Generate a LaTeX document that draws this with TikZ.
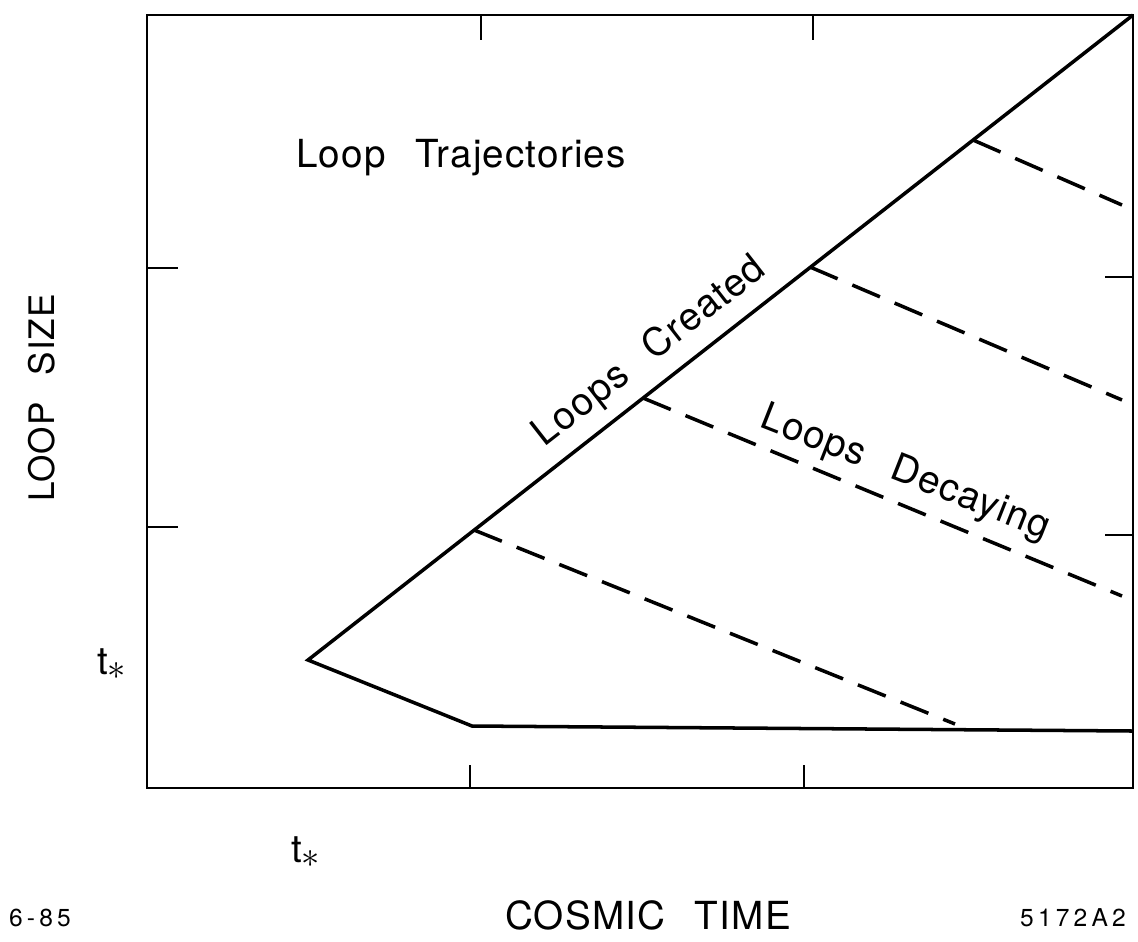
\documentclass[tikz,border=0pt]{standalone}
\usepackage{fontspec}
\newfontfamily\lettering[LetterSpace=3,WordSpace=2.5]{TeX Gyre Heros}
\newfontfamily\codefont[LetterSpace=17]{TeX Gyre Heros}
\usetikzlibrary{calc}

\begin{document}
\begin{tikzpicture}[
  x=0.02cm, y=-0.02cm,
  frame/.style={line width=1.6pt, line join=miter},
  tick/.style={line width=1.2pt},
  track/.style={line width=2pt, line join=miter},
  decay/.style={line width=2pt, dash pattern=on 0.6cm off 0.32cm},
  lbl/.style={font=\lettering\fontsize{22}{26}\selectfont, inner sep=0pt},
  code/.style={font=\codefont\fontsize{14}{16}\selectfont, inner sep=0pt},
]
\useasboundingbox (0,0) rectangle (1138,941);

% ---- frame and its ticks
\coordinate (bl) at (147,788);
\coordinate (tr) at (1133,15);
\draw[frame] (bl) rectangle (tr);
\foreach \x in {481,813} { \draw[tick] (\x,15) -- (\x,40); }
\foreach \x in {470,804} { \draw[tick] (\x,788) -- (\x,765); }
\foreach \y in {268,527} { \draw[tick] (147,\y) -- (178,\y); }
\foreach \y in {277,535} { \draw[tick] (1133,\y) -- (1105,\y); }

% ---- creation line and the lower edge
\coordinate (apex) at (308,660);
\coordinate (knee) at (472,726);
\coordinate (floor) at (1133,731);
\draw[track] (floor) -- (knee) -- (apex) -- (tr);

% ---- decaying loops, one per start on the creation line
\foreach \k/\sx/\sy/\ex/\ey in {1/474/530/955/724, 2/643/398/1122/596,
                               3/810/267/1122/400, 4/973/140/1122/205} {
  \coordinate (b\k) at (\sx,\sy);
  \coordinate (e\k) at (\ex,\ey);
  \draw[decay] (b\k) -- (e\k);
}

% ---- labels
\node[lbl] (title) at (461,158) {Loop Trajectories};
\node[lbl, rotate=38] (created) at (650,352) {Loops Created};
\node[lbl, rotate=-21.5] (decaying) at (905,474) {Loops Decaying};
\node[lbl, rotate=90, font=\lettering\fontsize{20}{24}\selectfont] (ylab) at (42,398) {LOOP SIZE};
\node[lbl] (xlab) at (648,915) {COSMIC TIME};
\node[lbl] (tstary) at (112,664) {t$_{\textstyle *}$};
\node[lbl] (tstarx) at (306,852) {t$_{\textstyle *}$};
\node[code] (date) at (40,918) {6-85};
\node[code] (fig) at (1073,918) {5172A2};
\end{tikzpicture}
\end{document}
